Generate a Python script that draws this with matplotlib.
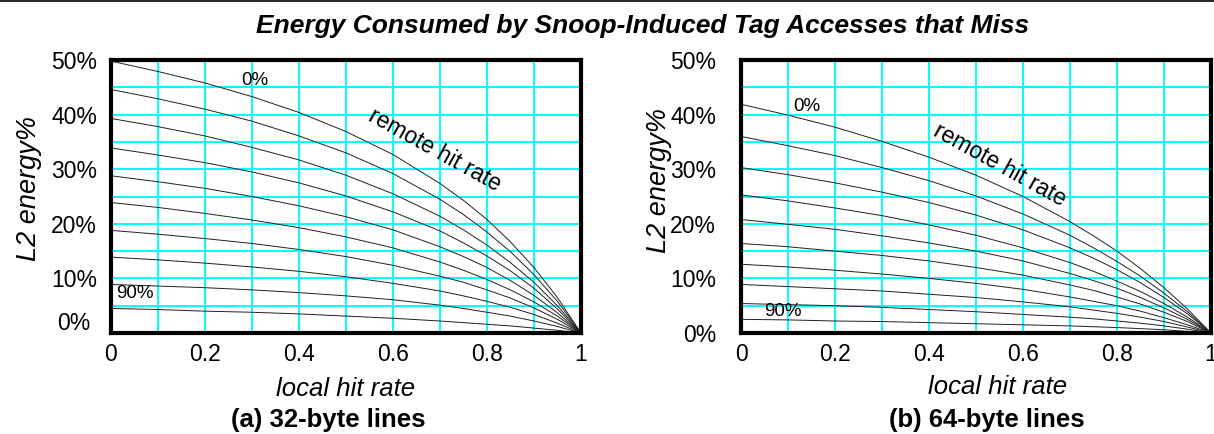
import matplotlib
matplotlib.use('Agg')
import matplotlib.pyplot as plt
from matplotlib.lines import Line2D
import numpy as np

plt.rcParams['font.family'] = ['Liberation Sans', 'DejaVu Sans']

local_hit = [0, 0.1, 0.2, 0.3, 0.4, 0.5, 0.6, 0.7, 0.75, 0.8, 0.85, 0.9, 0.95, 1.0]
remote_rates = ['0%', '10%', '20%', '30%', '40%', '50%', '60%', '70%', '80%', '90%']

# (a) 32-byte lines, one row per remote hit rate (L2 energy %)
energy32 = [
    [49.8, 47.9, 45.8, 43.3, 40.4, 36.9, 32.7, 27.4, 24.3, 20.8, 16.7, 12.0, 6.5, 0],
    [44.6, 42.9, 41.0, 38.8, 36.1, 33.0, 29.2, 24.5, 21.7, 18.5, 14.9, 10.7, 5.8, 0],
    [39.3, 37.8, 36.1, 34.0, 31.7, 28.9, 25.5, 21.4, 18.9, 16.1, 12.9, 9.3, 5.0, 0],
    [33.9, 32.6, 31.2, 29.5, 27.5, 25.1, 22.2, 18.7, 16.5, 14.1, 11.4, 8.2, 4.4, 0],
    [28.8, 27.7, 26.5, 25.0, 23.3, 21.3, 18.9, 15.8, 14.0, 12.0, 9.6, 6.9, 3.7, 0],
    [23.9, 23.0, 21.9, 20.7, 19.3, 17.6, 15.6, 13.0, 11.5, 9.8, 7.9, 5.7, 3.1, 0],
    [18.8, 18.1, 17.3, 16.4, 15.3, 14.0, 12.4, 10.4, 9.3, 7.9, 6.4, 4.6, 2.5, 0],
    [13.9, 13.4, 12.8, 12.1, 11.3, 10.3, 9.1, 7.7, 6.8, 5.8, 4.7, 3.4, 1.8, 0],
    [8.9, 8.6, 8.3, 7.9, 7.4, 6.8, 6.1, 5.1, 4.5, 3.8, 3.1, 2.2, 1.2, 0],
    [4.5, 4.3, 4.0, 3.8, 3.5, 3.1, 2.7, 2.2, 1.9, 1.6, 1.3, 0.9, 0.5, 0],
]

# (b) 64-byte lines
energy64 = [
    [41.9, 39.9, 37.7, 35.1, 32.2, 28.9, 25.0, 20.4, 17.8, 15.0, 11.8, 8.3, 4.4, 0],
    [36.0, 34.3, 32.5, 30.3, 27.9, 25.1, 21.8, 17.9, 15.6, 13.1, 10.4, 7.3, 3.9, 0],
    [30.3, 29.0, 27.5, 25.8, 23.9, 21.6, 18.9, 15.6, 13.7, 11.6, 9.2, 6.5, 3.5, 0],
    [25.3, 24.2, 22.9, 21.5, 19.8, 17.9, 15.6, 12.9, 11.3, 9.5, 7.6, 5.4, 2.9, 0],
    [20.8, 19.9, 19.0, 17.8, 16.5, 15.0, 13.2, 10.9, 9.6, 8.2, 6.5, 4.6, 2.5, 0],
    [16.4, 15.8, 15.0, 14.2, 13.2, 12.0, 10.6, 8.8, 7.8, 6.6, 5.3, 3.8, 2.1, 0],
    [12.6, 12.1, 11.5, 10.8, 10.0, 9.1, 8.0, 6.6, 5.8, 5.0, 4.0, 2.8, 1.5, 0],
    [8.9, 8.5, 8.1, 7.7, 7.1, 6.5, 5.7, 4.8, 4.2, 3.6, 2.9, 2.1, 1.1, 0],
    [5.4, 5.2, 5.0, 4.7, 4.3, 3.9, 3.4, 2.9, 2.6, 2.2, 1.8, 1.3, 0.7, 0],
    [2.5, 2.4, 2.2, 2.1, 1.9, 1.7, 1.5, 1.3, 1.15, 1.0, 0.8, 0.6, 0.3, 0],
]

x_ticks = [0, 0.2, 0.4, 0.6, 0.8, 1.0]
x_tick_labels = ['0', '0.2', '0.4', '0.6', '0.8', '1']
y_ticks = [0, 10, 20, 30, 40, 50]
y_tick_labels = ['0%', '10%', '20%', '30%', '40%', '50%']

fig = plt.figure(figsize=(12.14, 4.34), dpi=100)
ax1 = fig.add_axes([0.0914, 0.2327, 0.3871, 0.629])
ax2 = fig.add_axes([0.6104, 0.2327, 0.3871, 0.629])


def draw_panel(ax, data, ypad, first_pos, last_pos, remote_pos, xlabel_pos, ylabel_pos):
    for row in data:
        ax.plot(local_hit, row, color='#202020', linewidth=0.7, zorder=3)
    ax.set_xlim(0, 1)
    ax.set_ylim(0, 50)
    ax.set_xticks(x_ticks)
    ax.set_xticklabels(x_tick_labels)
    ax.set_yticks(y_ticks)
    ax.set_yticklabels(y_tick_labels)
    ax.set_xticks(np.arange(0, 1.01, 0.1), minor=True)
    ax.set_yticks(np.arange(0, 51, 5), minor=True)
    ax.grid(which='both', color='#00ffff', linewidth=1.4, zorder=0)
    ax.set_axisbelow(True)
    ax.tick_params(which='both', length=0, labelsize=16.5)
    ax.tick_params(axis='x', pad=7)
    ax.tick_params(axis='y', pad=ypad)
    for s in ax.spines.values():
        s.set_linewidth(3)
        s.set_zorder(5)
    ax.set_xlabel('local hit rate', fontsize=18.5, style='italic')
    ax.xaxis.set_label_coords(*xlabel_pos)
    ax.set_ylabel('L2 energy%', fontsize=19.5, style='italic')
    ax.yaxis.set_label_coords(*ylabel_pos)
    ax.text(first_pos[0], first_pos[1], remote_rates[0], fontsize=13.5, ha='center', va='center')
    ax.text(last_pos[0], last_pos[1], remote_rates[-1], fontsize=13.5, ha='center', va='center')
    ax.text(remote_pos[0], remote_pos[1], 'remote hit rate', fontsize=16.5, rotation=-29,
            rotation_mode='anchor', ha='center', va='center')


draw_panel(ax1, energy32, 10, (0.306, 46.3), (0.05, 7.2), (0.689, 33.5), (0.5, -0.16), (-0.147, 0.53))
draw_panel(ax2, energy64, 18, (0.141, 41.5), (0.089, 3.9), (0.551, 30.8), (0.546, -0.155), (-0.147, 0.56))

# left panel's 0% label sits a little higher than the tick
labels = ax1.get_yticklabels()
labels[0].set_visible(False)
ax1.annotate(y_tick_labels[0], xy=(0, 0), xytext=(-15, 7), textcoords='offset points',
             ha='right', va='center', fontsize=16.5, annotation_clip=False)

fig.text(0.529, 0.94, 'Energy Consumed by Snoop-Induced Tag Accesses that Miss',
         fontsize=19, fontweight='bold', style='italic', ha='center', va='center')
fig.text(0.2706, 0.032, '(a) 32-byte lines', fontsize=18.5, fontweight='bold', ha='center', va='center')
fig.text(0.813, 0.032, '(b) 64-byte lines', fontsize=18.5, fontweight='bold', ha='center', va='center')

# thin rule at the very top
fig.add_artist(Line2D([0, 1], [0.998, 0.998], color='black', linewidth=1.2))

fig.savefig('out.png', dpi=100)
